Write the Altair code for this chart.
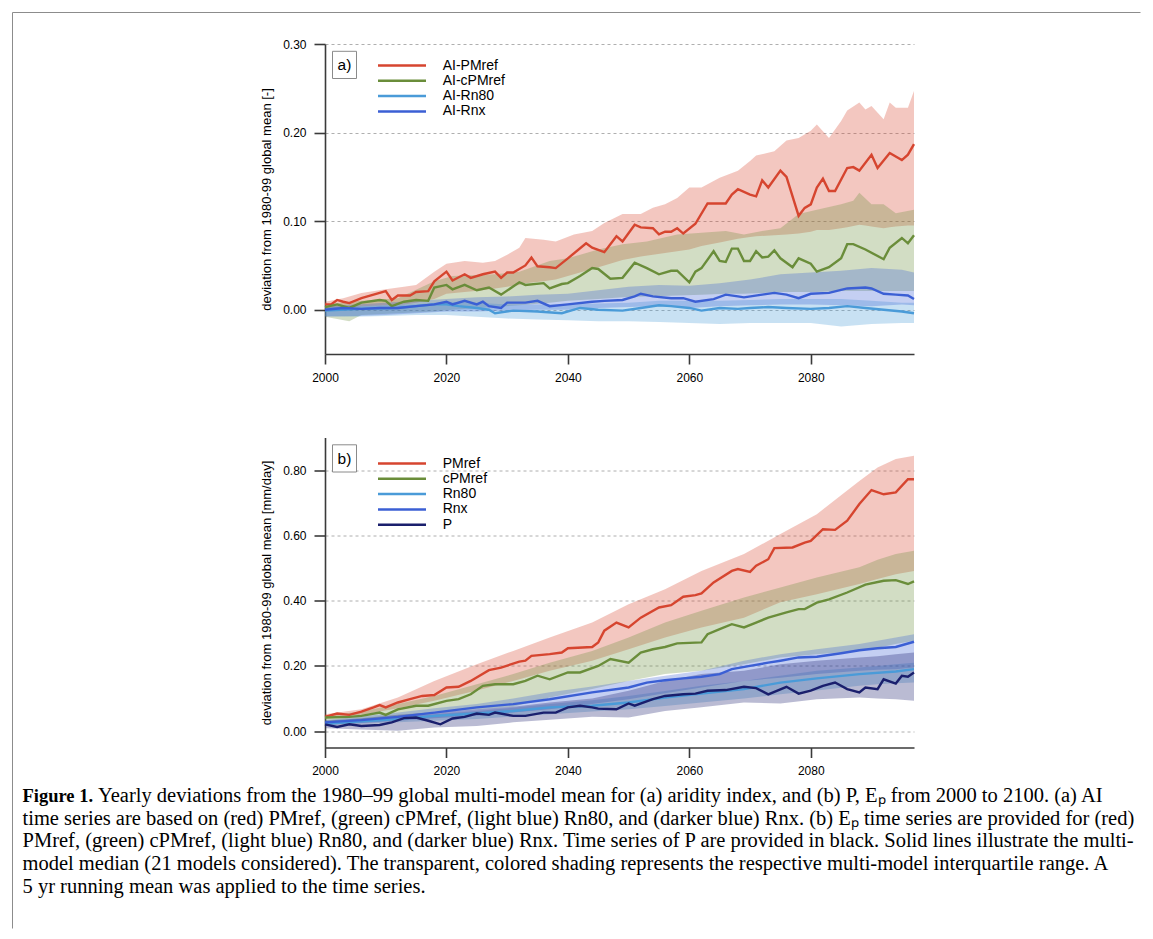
import altair as alt
import pandas as pd

FONT = "Liberation Sans"
SERIF = "Liberation Serif"

RED = "#D6452F"
GREEN = "#6A8D3A"
LBLUE = "#4A9BD8"
BLUE = "#3B5FD4"
NAVY = "#1A1F6D"
AXC = "#3a3a3a"
GRIDC = "#9a9a9a"
FRAMEC = "#8c8c8c"
BAND_OPACITY = 0.3

A_NAMES = ["AI-PMref", "AI-cPMref", "AI-Rn80", "AI-Rnx"]
A_COLORS = [RED, GREEN, LBLUE, BLUE]
B_NAMES = ["PMref", "cPMref", "Rn80", "Rnx", "P"]
B_COLORS = [RED, GREEN, LBLUE, BLUE, NAVY]

X_DOMAIN = [2000, 2097]
X_TICKS = [2000, 2020, 2040, 2060, 2080]
A_YDOMAIN = [-0.05, 0.30]
A_YTICKS = [0.0, 0.1, 0.2, 0.3]
B_YDOMAIN = [-0.05, 0.90]
B_YTICKS = [0.0, 0.2, 0.4, 0.6, 0.8]
A_YTITLE = "deviation from 1980-99 global mean [-]"
B_YTITLE = "deviation from 1980-99 global mean [mm/day]"

# ---------------- panel (a): median lines ----------------
A_PM_YEARS = [2000, 2001, 2002, 2003, 2004, 2006, 2008, 2010, 2011, 2012, 2014, 2015, 2017, 2018, 2020,
              2021, 2023, 2024, 2026, 2028, 2029, 2030, 2031, 2033, 2034, 2035, 2037, 2038, 2040, 2043,
              2044, 2046, 2048, 2049, 2051, 2052, 2054, 2055, 2056, 2057, 2058, 2059, 2061, 2063, 2064,
              2066, 2067, 2068, 2070, 2071, 2072, 2073, 2075, 2076, 2078, 2079, 2080, 2081, 2082, 2083,
              2084, 2086, 2087, 2088, 2090, 2091, 2093, 2095, 2096, 2097]
A_PM_VALS = [0.006, 0.006, 0.011, 0.009, 0.0075, 0.013, 0.017, 0.021, 0.011, 0.016, 0.016, 0.020, 0.021, 0.032, 0.043,
             0.033, 0.040, 0.036, 0.040, 0.043, 0.036, 0.042, 0.042, 0.050, 0.059, 0.049, 0.048, 0.047, 0.058, 0.075,
             0.070, 0.065, 0.083, 0.077, 0.096, 0.093, 0.092, 0.085, 0.088, 0.088, 0.092, 0.086, 0.097, 0.120, 0.120,
             0.120, 0.130, 0.136, 0.130, 0.128, 0.146, 0.138, 0.157, 0.150, 0.106, 0.115, 0.119, 0.138, 0.148, 0.134,
             0.134, 0.160, 0.161, 0.157, 0.175, 0.160, 0.177, 0.169, 0.175, 0.187]

A_CPM_YEARS = [2000, 2002, 2004, 2006, 2009, 2010, 2011, 2013, 2015, 2017, 2018, 2020, 2021, 2023, 2025,
               2027, 2029, 2032, 2033, 2036, 2037, 2039, 2040, 2042, 2044, 2045, 2047, 2049, 2051, 2053,
               2055, 2057, 2058, 2060, 2061, 2062, 2064, 2065, 2066, 2067, 2068, 2069, 2070, 2071, 2072,
               2073, 2074, 2075, 2077, 2078, 2080, 2081, 2083, 2085, 2086, 2087, 2089, 2092, 2093, 2095,
               2096, 2097]
A_CPM_VALS = [0.003, 0.006, 0.002, 0.008, 0.011, 0.010, 0.004, 0.009, 0.011, 0.010, 0.025, 0.028, 0.023, 0.028, 0.022,
              0.025, 0.017, 0.031, 0.028, 0.030, 0.024, 0.029, 0.030, 0.038, 0.047, 0.046, 0.035, 0.036, 0.053, 0.047,
              0.040, 0.044, 0.044, 0.031, 0.043, 0.047, 0.066, 0.055, 0.054, 0.069, 0.069, 0.055, 0.055, 0.066, 0.059,
              0.060, 0.067, 0.058, 0.048, 0.058, 0.052, 0.043, 0.048, 0.058, 0.074, 0.074, 0.068, 0.057, 0.070, 0.081,
              0.075, 0.084]

A_RN80_YEARS = [2000, 2006, 2012, 2018, 2020, 2022, 2025, 2027, 2028, 2031, 2035, 2039, 2042, 2045, 2049,
                2052, 2055, 2057, 2060, 2062, 2065, 2068, 2070, 2073, 2076, 2080, 2083, 2086, 2089, 2092,
                2095, 2097]
A_RN80_VALS = [-0.001, 0.001, 0.002, 0.006, 0.006, 0.004, 0.002, 0.000, -0.004, -0.001, -0.002, -0.004, 0.002, 0.000, -0.001,
               0.002, 0.005, 0.004, 0.002, -0.001, 0.002, 0.001, 0.002, 0.003, 0.002, 0.001, 0.002, 0.004, 0.002, 0.000,
               -0.002, -0.004]

A_RNX_YEARS = [2000, 2003, 2006, 2009, 2012, 2015, 2018, 2020, 2021, 2023, 2025, 2026, 2027, 2029, 2030,
               2033, 2035, 2037, 2040, 2044, 2046, 2049, 2051, 2052, 2054, 2057, 2059, 2061, 2064, 2066,
               2068, 2069, 2072, 2074, 2076, 2078, 2080, 2083, 2086, 2089, 2090, 2092, 2094, 2096, 2097]
A_RNX_VALS = [0.000, 0.002, 0.001, 0.002, 0.002, 0.004, 0.006, 0.009, 0.006, 0.010, 0.006, 0.009, 0.004, 0.002, 0.008,
              0.008, 0.010, 0.004, 0.006, 0.009, 0.010, 0.011, 0.015, 0.018, 0.015, 0.013, 0.013, 0.009, 0.012, 0.017,
              0.015, 0.014, 0.017, 0.019, 0.017, 0.013, 0.018, 0.019, 0.024, 0.025, 0.024, 0.018, 0.017, 0.016, 0.012]

# ---------------- panel (a): interquartile bands ----------------
A_PM_BAND_YEARS = [2000, 2003, 2006, 2010, 2013, 2015, 2018, 2020, 2023, 2026, 2028, 2030, 2032, 2033, 2036, 2038,
                   2041, 2044, 2046, 2049, 2052, 2054, 2056, 2058, 2060, 2062, 2065, 2068, 2070, 2071, 2074, 2076,
                   2078, 2080, 2081, 2083, 2085, 2086, 2088, 2089, 2090, 2092, 2093, 2094, 2096, 2097]
A_PM_BAND_HI = [0.009, 0.013, 0.019, 0.023, 0.026, 0.028, 0.043, 0.052, 0.055, 0.053, 0.055, 0.062, 0.070, 0.081, 0.079, 0.077,
                0.085, 0.089, 0.098, 0.108, 0.108, 0.115, 0.119, 0.126, 0.138, 0.138, 0.149, 0.157, 0.168, 0.174, 0.179, 0.191,
                0.194, 0.202, 0.209, 0.194, 0.213, 0.225, 0.234, 0.226, 0.230, 0.215, 0.234, 0.228, 0.228, 0.247]
A_PM_BAND_LO = [0.001, 0.002, 0.004, 0.005, 0.006, 0.008, 0.012, 0.018, 0.020, 0.022, 0.024, 0.026, 0.028, 0.030, 0.032, 0.034,
                0.040, 0.046, 0.050, 0.056, 0.060, 0.062, 0.064, 0.066, 0.068, 0.072, 0.076, 0.080, 0.082, 0.083, 0.084, 0.085,
                0.086, 0.088, 0.090, 0.090, 0.092, 0.093, 0.096, 0.095, 0.094, 0.092, 0.093, 0.094, 0.095, 0.095]

A_CPM_BAND_YEARS = [2000, 2004, 2006, 2012, 2018, 2021, 2028, 2032, 2037, 2040, 2045, 2049, 2053, 2058, 2062, 2066,
                    2069, 2072, 2075, 2078, 2081, 2085, 2087, 2088, 2090, 2092, 2094, 2097]
A_CPM_BAND_HI = [0.006, 0.009, 0.010, 0.013, 0.032, 0.038, 0.040, 0.043, 0.055, 0.058, 0.068, 0.074, 0.077, 0.085, 0.087, 0.089,
                 0.085, 0.089, 0.092, 0.108, 0.113, 0.119, 0.123, 0.132, 0.119, 0.119, 0.109, 0.113]
A_CPM_BAND_LO = [-0.008, -0.013, -0.006, -0.004, -0.002, 0.000, 0.003, 0.005, 0.008, 0.010, 0.012, 0.014, 0.015, 0.016, 0.017, 0.018,
                 0.018, 0.019, 0.020, 0.020, 0.020, 0.021, 0.021, 0.021, 0.021, 0.021, 0.021, 0.021]

A_BLUE_BAND_YEARS = [2000, 2005, 2010, 2015, 2020, 2025, 2030, 2035, 2040, 2045, 2050, 2055, 2060, 2065, 2070, 2075,
                     2080, 2085, 2090, 2095, 2097]
A_RNX_BAND_HI = [0.004, 0.006, 0.008, 0.010, 0.012, 0.014, 0.015, 0.017, 0.018, 0.022, 0.026, 0.028, 0.027, 0.030, 0.034, 0.040,
                 0.042, 0.044, 0.047, 0.045, 0.042]
A_RNX_BAND_LO = [-0.008, -0.007, -0.006, -0.004, -0.002, -0.002, -0.001, 0.000, 0.000, 0.002, 0.003, 0.004, 0.002, 0.004, 0.005, 0.006,
                 0.006, 0.005, 0.004, 0.006, 0.005]
A_RN80_BAND_HI = [0.003, 0.004, 0.005, 0.006, 0.009, 0.008, 0.006, 0.006, 0.006, 0.007, 0.008, 0.010, 0.010, 0.010, 0.011, 0.012,
                  0.012, 0.012, 0.010, 0.008, 0.008]
A_RN80_BAND_LO = [-0.007, -0.008, -0.007, -0.006, -0.006, -0.008, -0.010, -0.011, -0.012, -0.013, -0.013, -0.014, -0.015, -0.016, -0.015, -0.015,
                  -0.015, -0.019, -0.016, -0.015, -0.015]

# ---------------- panel (b): median lines ----------------
B_PM_YEARS = [2000, 2002, 2004, 2006, 2008, 2009, 2010, 2012, 2014, 2016, 2018, 2020, 2022, 2024, 2027, 2029,
              2032, 2033, 2034, 2037, 2039, 2040, 2044, 2045, 2046, 2048, 2050, 2052, 2055, 2057, 2059, 2061,
              2062, 2064, 2067, 2068, 2070, 2071, 2073, 2074, 2077, 2079, 2080, 2082, 2084, 2086, 2088, 2090,
              2092, 2094, 2096, 2097]
B_PM_VALS = [0.044, 0.054, 0.050, 0.060, 0.073, 0.080, 0.073, 0.088, 0.098, 0.108, 0.111, 0.134, 0.136, 0.154, 0.187, 0.195,
             0.213, 0.216, 0.231, 0.236, 0.241, 0.254, 0.258, 0.272, 0.308, 0.333, 0.318, 0.348, 0.379, 0.386, 0.412, 0.417,
             0.422, 0.456, 0.491, 0.497, 0.488, 0.507, 0.527, 0.561, 0.563, 0.578, 0.583, 0.619, 0.617, 0.645, 0.696, 0.739,
             0.726, 0.732, 0.772, 0.772]

B_CPM_YEARS = [2000, 2004, 2006, 2009, 2010, 2012, 2015, 2017, 2020, 2022, 2024, 2026, 2028, 2031, 2033, 2035,
               2037, 2040, 2042, 2045, 2047, 2050, 2052, 2054, 2056, 2058, 2062, 2063, 2065, 2067, 2069, 2071,
               2073, 2076, 2078, 2079, 2081, 2083, 2086, 2089, 2092, 2094, 2096, 2097]
B_CPM_VALS = [0.042, 0.044, 0.047, 0.057, 0.050, 0.067, 0.078, 0.078, 0.093, 0.098, 0.113, 0.139, 0.144, 0.144, 0.154, 0.170,
              0.159, 0.180, 0.180, 0.200, 0.221, 0.210, 0.241, 0.251, 0.258, 0.269, 0.272, 0.297, 0.313, 0.328, 0.318, 0.333,
              0.348, 0.364, 0.374, 0.374, 0.394, 0.404, 0.425, 0.449, 0.461, 0.463, 0.451, 0.459]

B_RN80_YEARS = [2000, 2006, 2012, 2018, 2025, 2031, 2037, 2044, 2050, 2056, 2062, 2069, 2075, 2081, 2088, 2094, 2097]
B_RN80_VALS = [0.023, 0.030, 0.037, 0.047, 0.054, 0.062, 0.073, 0.078, 0.088, 0.103, 0.115, 0.129, 0.149, 0.162, 0.175, 0.183, 0.190]

B_RNX_YEARS = [2000, 2006, 2012, 2018, 2025, 2031, 2037, 2044, 2050, 2053, 2056, 2059, 2062, 2065, 2067, 2070,
               2073, 2075, 2078, 2081, 2085, 2088, 2091, 2094, 2097]
B_RNX_VALS = [0.027, 0.034, 0.044, 0.057, 0.073, 0.083, 0.098, 0.119, 0.134, 0.149, 0.156, 0.162, 0.167, 0.175, 0.190, 0.200,
              0.210, 0.216, 0.226, 0.228, 0.239, 0.248, 0.254, 0.258, 0.274]

B_P_YEARS = [2000, 2002, 2004, 2006, 2009, 2011, 2013, 2015, 2017, 2019, 2021, 2023, 2025, 2027, 2028, 2031,
             2033, 2036, 2038, 2040, 2042, 2044, 2045, 2048, 2050, 2051, 2054, 2056, 2059, 2061, 2063, 2066,
             2069, 2071, 2073, 2076, 2078, 2080, 2082, 2084, 2086, 2088, 2089, 2091, 2092, 2094, 2095, 2096, 2097]
B_P_VALS = [0.021, 0.013, 0.021, 0.016, 0.019, 0.027, 0.040, 0.042, 0.032, 0.021, 0.039, 0.044, 0.054, 0.050, 0.057, 0.047,
            0.047, 0.057, 0.057, 0.073, 0.078, 0.073, 0.069, 0.067, 0.085, 0.078, 0.098, 0.108, 0.113, 0.115, 0.124, 0.126,
            0.136, 0.132, 0.113, 0.136, 0.115, 0.124, 0.139, 0.149, 0.129, 0.119, 0.134, 0.129, 0.159, 0.146, 0.170, 0.167, 0.180]

# ---------------- panel (b): interquartile bands ----------------
B_BAND_YEARS = [2000, 2006, 2012, 2018, 2025, 2031, 2037, 2044, 2050, 2056, 2062, 2069, 2075, 2081, 2088, 2091, 2094, 2097]
B_PM_BAND_HI = [0.052, 0.067, 0.103, 0.154, 0.205, 0.246, 0.287, 0.333, 0.389, 0.435, 0.491, 0.543, 0.604, 0.665, 0.767, 0.808, 0.834, 0.844]
B_PM_BAND_LO = [0.040, 0.050, 0.070, 0.093, 0.125, 0.154, 0.185, 0.216, 0.251, 0.287, 0.318, 0.348, 0.395, 0.420, 0.451, 0.466, 0.481, 0.491]
B_CPM_BAND_HI = [0.047, 0.060, 0.083, 0.108, 0.144, 0.175, 0.210, 0.246, 0.287, 0.333, 0.369, 0.410, 0.440, 0.471, 0.502, 0.525, 0.543, 0.553]
B_CPM_BAND_LO = [0.027, 0.035, 0.042, 0.060, 0.067, 0.075, 0.103, 0.129, 0.154, 0.175, 0.185, 0.205, 0.226, 0.236, 0.246, 0.256, 0.267, 0.277]
B_RN80_BAND_HI = [0.030, 0.037, 0.044, 0.052, 0.062, 0.072, 0.083, 0.095, 0.108, 0.123, 0.139, 0.154, 0.170, 0.185, 0.195, 0.200, 0.205, 0.210]
B_RN80_BAND_LO = [0.019, 0.023, 0.027, 0.032, 0.037, 0.045, 0.052, 0.060, 0.067, 0.077, 0.088, 0.100, 0.113, 0.125, 0.139, 0.144, 0.147, 0.149]
B_RNX_BAND_HI = [0.034, 0.045, 0.057, 0.070, 0.083, 0.100, 0.119, 0.137, 0.154, 0.170, 0.185, 0.216, 0.236, 0.251, 0.267, 0.277, 0.287, 0.297]
B_RNX_BAND_LO = [0.019, 0.025, 0.032, 0.040, 0.047, 0.057, 0.067, 0.083, 0.098, 0.116, 0.134, 0.154, 0.164, 0.175, 0.185, 0.188, 0.190, 0.195]
B_P_BAND_HI = [0.032, 0.040, 0.050, 0.058, 0.067, 0.075, 0.088, 0.100, 0.124, 0.154, 0.175, 0.185, 0.205, 0.216, 0.226, 0.230, 0.236, 0.241]
B_P_BAND_LO = [0.009, 0.005, 0.001, 0.011, 0.016, 0.027, 0.035, 0.044, 0.042, 0.062, 0.073, 0.088, 0.085, 0.098, 0.103, 0.100, 0.098, 0.093]

# ---------------- caption ----------------
CAPTION_BOLD = "Figure 1."
CAPTION_FIRST = "Yearly deviations from the 1980\u201399 global multi-model mean for (a) aridity index, and (b) P, E\u209a from 2000 to 2100. (a) AI"
CAPTION_REST = [
    "time series are based on (red) PMref, (green) cPMref, (light blue) Rn80, and (darker blue) Rnx. (b) E\u209a time series are provided for (red)",
    "PMref, (green) cPMref, (light blue) Rn80, and (darker blue) Rnx. Time series of P are provided in black. Solid lines illustrate the multi-",
    "model median (21 models considered). The transparent, colored shading represents the respective multi-model interquartile range. A",
    "5 yr running mean was applied to the time series.",
]

# ---------------- layout constants (pixels) ----------------
W, H = 589, 310
SPACING = 83.5
PLOT_X = 324.5          # page x of plot left
PLOT_YA = 43.5          # page y of panel a top
PLOT_YB = PLOT_YA + H + SPACING


def lines_frame(names, series):
    rows = []
    for name, (years, vals) in zip(names, series, strict=True):
        for yr, v in zip(years, vals, strict=True):
            rows.append({"year": yr, "value": v, "series": name})
    return pd.DataFrame(rows)


def band_frame(years, lo, hi):
    assert len(years) == len(lo) == len(hi)
    return pd.DataFrame({"year": years, "lo": lo, "hi": hi})


ONE = pd.DataFrame({"k": [0]})


def x_enc():
    return alt.X(
        "year:Q",
        scale=alt.Scale(domain=X_DOMAIN, nice=False, zero=False),
        axis=alt.Axis(values=X_TICKS, format="d", title=None, grid=False, tickSize=10,
                      labelPadding=8, labelFont=FONT, labelFontSize=12, labelColor="black",
                      domainColor=AXC, tickColor=AXC, domainWidth=1.6, tickWidth=1.6,
                      labelFlush=False, labelOverlap=False),
    )


def y_axis(ticks, title):
    return alt.Axis(values=ticks, format=".2f", title=title, grid=True, gridDash=[3, 3],
                    gridColor=GRIDC, gridWidth=0.8, tickSize=11, labelPadding=8,
                    labelFont=FONT, labelFontSize=12, labelColor="black",
                    titleFont=FONT, titleFontSize=13, titleFontWeight="normal",
                    titleColor="black", titlePadding=9,
                    domainColor=AXC, tickColor=AXC, domainWidth=1.6, tickWidth=1.6,
                    labelFlush=False, labelOverlap=False)


def panel(letter, bands, ldf, names, colors, ydom, yticks, ytitle, legend_y, extra):
    xe = x_enc()
    ys = alt.Scale(domain=ydom, nice=False, zero=False)
    ya = y_axis(yticks, ytitle)
    layers = []
    for bdf, col in bands:
        layers.append(
            alt.Chart(bdf).mark_area(color=col, opacity=BAND_OPACITY).encode(
                x=xe, y=alt.Y("lo:Q", scale=ys, axis=ya), y2="hi:Q")
        )
    layers.append(
        alt.Chart(ldf).mark_line(strokeWidth=2.4).encode(
            x=xe,
            y=alt.Y("value:Q", scale=ys, axis=ya),
            color=alt.Color(
                "series:N",
                scale=alt.Scale(domain=names, range=colors),
                legend=alt.Legend(orient="none", legendX=52, legendY=legend_y, title=None,
                                  symbolType="M-4.8,0H4.8", symbolSize=100, symbolStrokeWidth=2.5,
                                  symbolOffset=18, labelOffset=33.7, labelFont=FONT, labelFontSize=14,
                                  labelColor="black", rowPadding=1.3, padding=0, labelLimit=0),
            ),
        )
    )
    # panel letter box
    layers.append(
        alt.Chart(ONE).mark_rect(fill="white", stroke="#8a8a8a", strokeWidth=1).encode(
            x=alt.value(7.5), x2=alt.value(31.5), y=alt.value(7.3), y2=alt.value(34.5))
    )
    layers.append(
        alt.Chart(ONE).mark_text(text=letter, font=FONT, fontSize=15.5, align="center",
                                 baseline="middle", color="black").encode(
            x=alt.value(19.5), y=alt.value(21))
    )
    layers.extend(extra)
    return alt.layer(*layers).properties(width=W, height=H)


# ---- panel a ----
a_lines = lines_frame(A_NAMES, [(A_PM_YEARS, A_PM_VALS), (A_CPM_YEARS, A_CPM_VALS),
                                (A_RN80_YEARS, A_RN80_VALS), (A_RNX_YEARS, A_RNX_VALS)])
a_bands = [
    (band_frame(A_PM_BAND_YEARS, A_PM_BAND_LO, A_PM_BAND_HI), RED),
    (band_frame(A_CPM_BAND_YEARS, A_CPM_BAND_LO, A_CPM_BAND_HI), GREEN),
    (band_frame(A_BLUE_BAND_YEARS, A_RN80_BAND_LO, A_RN80_BAND_HI), LBLUE),
    (band_frame(A_BLUE_BAND_YEARS, A_RNX_BAND_LO, A_RNX_BAND_HI), BLUE),
]
frame_top = alt.Chart(ONE).mark_rule(color=FRAMEC, strokeWidth=1).encode(
    x=alt.value(12 - PLOT_X), x2=alt.value(1140 - PLOT_X), y=alt.value(12 - PLOT_YA))
pa = panel("a)", a_bands, a_lines, A_NAMES, A_COLORS, A_YDOMAIN, A_YTICKS, A_YTITLE, 14.5, [frame_top])

# ---- panel b ----
b_lines = lines_frame(B_NAMES, [(B_PM_YEARS, B_PM_VALS), (B_CPM_YEARS, B_CPM_VALS),
                                (B_RN80_YEARS, B_RN80_VALS), (B_RNX_YEARS, B_RNX_VALS),
                                (B_P_YEARS, B_P_VALS)])
b_bands = [
    (band_frame(B_BAND_YEARS, B_PM_BAND_LO, B_PM_BAND_HI), RED),
    (band_frame(B_BAND_YEARS, B_CPM_BAND_LO, B_CPM_BAND_HI), GREEN),
    (band_frame(B_BAND_YEARS, B_RN80_BAND_LO, B_RN80_BAND_HI), LBLUE),
    (band_frame(B_BAND_YEARS, B_RNX_BAND_LO, B_RNX_BAND_HI), BLUE),
    (band_frame(B_BAND_YEARS, B_P_BAND_LO, B_P_BAND_HI), NAVY),
]
frame_left = alt.Chart(ONE).mark_rule(color=FRAMEC, strokeWidth=1).encode(
    x=alt.value(12 - PLOT_X), y=alt.value(12 - PLOT_YB), y2=alt.value(928 - PLOT_YB))
CAP_FS = 20.5
CAP_BOLD_FS = 18.5
CAP_X = 22 - PLOT_X
CAP_Y = 801.5 - PLOT_YB
cap_bold = alt.Chart(ONE).mark_text(text=CAPTION_BOLD, font=SERIF, fontSize=CAP_BOLD_FS, fontWeight="bold",
                                    align="left", baseline="alphabetic", color="black").encode(
    x=alt.value(CAP_X), y=alt.value(CAP_Y))
cap_first = alt.Chart(ONE).mark_text(text=CAPTION_FIRST, font=SERIF, fontSize=CAP_FS,
                                     align="left", baseline="alphabetic", color="black").encode(
    x=alt.value(CAP_X + 75.5), y=alt.value(CAP_Y))
cap_rest = alt.Chart(ONE).mark_text(text="\n".join(CAPTION_REST), lineBreak="\n", lineHeight=22.7,
                                    font=SERIF, fontSize=CAP_FS, align="left", baseline="alphabetic",
                                    color="black").encode(
    x=alt.value(CAP_X), y=alt.value(CAP_Y + 22.7))
pb = panel("b)", b_bands, b_lines, B_NAMES, B_COLORS, B_YDOMAIN, B_YTICKS, B_YTITLE, 19,
           [frame_left, cap_bold, cap_first, cap_rest])

chart = (
    alt.vconcat(pa, pb, spacing=SPACING, bounds="flush")
    .resolve_scale(x="independent", y="independent", color="independent")
    .properties(padding={"left": 4, "top": 4, "right": 0, "bottom": 0}, background="white")
    .configure_view(stroke=None)
)

chart.save("out.html", embed_options={"renderer": "svg", "actions": False})
